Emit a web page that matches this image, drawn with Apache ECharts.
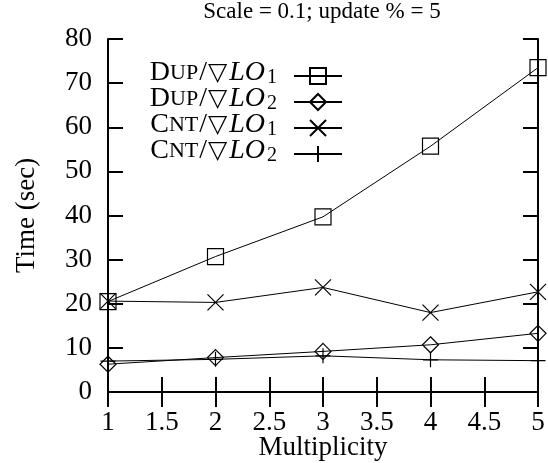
<!DOCTYPE html>
<html>
<head>
<meta charset="utf-8">
<script src="https://cdn.jsdelivr.net/npm/echarts@6/dist/echarts.min.js"></script>
<style>
  html, body { margin: 0; padding: 0; background: #fff; }
  #chart { width: 548px; height: 463px; }
</style>
</head>
<body>
<div id="chart"></div>
<script>
// Multiplicity on the x axis, running time in seconds on the y axis
const multiplicity = [1, 2, 3, 4, 5];
const dupLO1 = [20.5, 30.7, 39.7, 55.7, 73.5];
const dupLO2 = [6.3, 7.8, 9.2, 10.7, 13.3];
const cntLO1 = [20.6, 20.3, 23.7, 18.0, 22.7];
const cntLO2 = [7.0, 7.4, 8.2, 7.3, 7.1];
const xTicks = [1, 1.5, 2, 2.5, 3, 3.5, 4, 4.5, 5];
const yTicks = [0, 10, 20, 30, 40, 50, 60, 70, 80];

const seriesNames = ['DUP/LO1', 'DUP/LO2', 'CNT/LO1', 'CNT/LO2'];
const seriesValues = [dupLO1, dupLO2, cntLO1, cntLO2];

const SERIF = '"Liberation Serif", "DejaVu Serif", serif';
const CROSS = 'path://M0 0L10 10M10 0L0 10';
const PLUS = 'path://M5 0L5 10M0 5L10 5';

const markers = [
  { symbol: 'rect', size: 16 },
  { symbol: 'diamond', size: 16 },
  { symbol: CROSS, size: 16 },
  { symbol: PLUS, size: 15 }
];

// Legend labels: small-caps prefix, nabla, italic LO with a subscript.
// Bottom padding lifts the text a little above the legend line.
const legendRich = {
  cap: { fontFamily: SERIF, fontSize: 28, lineHeight: 20, padding: [0, 0, 6, 0] },
  sc: { fontFamily: SERIF, fontSize: 22, lineHeight: 20, padding: [0, 0, 6, 0] },
  sl: { fontFamily: SERIF, fontSize: 28, lineHeight: 20, padding: [0, 1, 6, 1] },
  tri: { fontFamily: '"DejaVu Sans", sans-serif', fontSize: 25, lineHeight: 20, padding: [0, 2, 6, 0] },
  it: { fontFamily: SERIF, fontSize: 28, fontStyle: 'italic', lineHeight: 20, padding: [0, 1, 6, 0] },
  sub: { fontFamily: SERIF, fontSize: 20, lineHeight: 12, padding: [9, 12, 5, 1] }
};

function legendLabel(name) {
  const [head, tail] = name.split('/');
  const idx = tail.slice(-1);
  return '{cap|' + head[0] + '}{sc|' + head.slice(1) + '}{sl|/}{tri|▽}{it|LO}{sub|' + idx + '}';
}

const chart = echarts.init(document.getElementById('chart'), null, { renderer: 'canvas' });

const axisLine = { show: true, lineStyle: { color: '#000', width: 2 } };
const axisTick = { show: true, inside: true, length: 15, lineStyle: { color: '#000', width: 2 } };

chart.setOption({
  animation: false,
  backgroundColor: '#fff',
  grid: { left: 108, right: 10, top: 39, bottom: 71, containLabel: false, outerBoundsMode: 'none' },
  graphic: [{
    type: 'text',
    x: 322,
    y: 0,
    style: {
      text: 'Scale = 0.1; update % = 5',
      font: '23px ' + SERIF,
      fill: '#000',
      textAlign: 'center',
      textVerticalAlign: 'top'
    }
  }],
  legend: {
    orient: 'vertical',
    align: 'right',
    right: 200,
    top: 54,
    itemWidth: 48,
    itemHeight: 20,
    itemGap: -8,
    data: seriesNames,
    formatter: legendLabel,
    textStyle: { color: '#000', rich: legendRich },
    inactiveColor: '#000'
  },
  xAxis: [{
    type: 'value',
    position: 'bottom',
    min: xTicks[0],
    max: xTicks[xTicks.length - 1],
    interval: xTicks[1] - xTicks[0],
    name: 'Multiplicity',
    nameLocation: 'middle',
    nameGap: 42,
    nameMoveOverlap: false,
    nameTextStyle: { fontFamily: SERIF, fontSize: 27, color: '#000' },
    axisLine: axisLine,
    axisTick: axisTick,
    splitLine: { show: false },
    axisLabel: { show: true, showMinLabel: true, showMaxLabel: true, margin: 17, fontFamily: SERIF, fontSize: 27, color: '#000' }
  }, {
    type: 'value',
    position: 'top',
    min: xTicks[0],
    max: xTicks[xTicks.length - 1],
    interval: xTicks[1] - xTicks[0],
    axisLine: axisLine,
    axisTick: axisTick,
    splitLine: { show: false },
    axisLabel: { show: false }
  }],
  yAxis: [{
    type: 'value',
    position: 'left',
    min: yTicks[0],
    max: yTicks[yTicks.length - 1],
    interval: yTicks[1] - yTicks[0],
    name: 'Time (sec)',
    nameLocation: 'middle',
    nameGap: 68,
    nameMoveOverlap: false,
    nameTextStyle: { fontFamily: SERIF, fontSize: 27, color: '#000' },
    axisLine: axisLine,
    axisTick: axisTick,
    splitLine: { show: false },
    axisLabel: { show: true, margin: 16, fontFamily: SERIF, fontSize: 27, color: '#000' }
  }, {
    type: 'value',
    position: 'right',
    min: yTicks[0],
    max: yTicks[yTicks.length - 1],
    interval: yTicks[1] - yTicks[0],
    axisLine: axisLine,
    axisTick: axisTick,
    splitLine: { show: false },
    axisLabel: { show: false }
  }],
  series: seriesNames.map(function (name, i) {
    return {
      name: name,
      type: 'line',
      xAxisIndex: 0,
      yAxisIndex: 0,
      data: multiplicity.map(function (m, j) { return [m, seriesValues[i][j]]; }),
      symbol: markers[i].symbol,
      symbolSize: markers[i].size,
      showAllSymbol: true,
      lineStyle: { color: '#000', width: 1 },
      itemStyle: { color: 'rgba(0,0,0,0)', borderColor: '#000', borderWidth: 1.2 },
      emphasis: { disabled: true }
    };
  })
});
</script>
</body>
</html>
